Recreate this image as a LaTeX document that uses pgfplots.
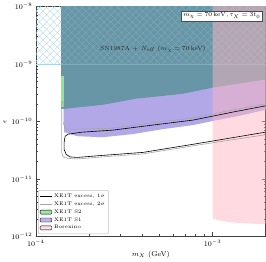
\documentclass[border=0pt]{standalone}
\usepackage{pgfplots}
\pgfplotsset{compat=1.18}
\usetikzlibrary{patterns.meta}
\definecolor{tealc}{RGB}{104,150,166}
\definecolor{purp}{RGB}{178,168,232}
\definecolor{greenc}{RGB}{144,230,144}
\definecolor{pinkc}{RGB}{255,182,193}
\definecolor{hatchc}{RGB}{170,215,230}
\colorlet{hatchdim}{hatchc!35!tealc}
\pgfplotsset{
  myline/.style={legend image code/.code={\draw[##1] (0cm,0cm) -- (0.4cm,0cm);}},
  mybox/.style={legend image code/.code={\fill[##1] (0cm,-0.07cm) rectangle (0.4cm,0.07cm);}},
}
\begin{document}
\begin{tikzpicture}
\begin{axis}[
  scale only axis, width=227pt, height=227pt,
  xmode=log, ymode=log,
  xmin=1e-4, xmax=2e-3, ymin=1e-12, ymax=1e-8,
  xtick={1e-4,1e-3}, ytick={1e-12,1e-11,1e-10,1e-9,1e-8},
  tick align=inside, xtick pos=both, ytick pos=both,
  major tick length=4pt, minor tick length=2pt,
  axis line style={black!75, line width=0.6pt},
  every tick/.style={black!75, line width=0.5pt},
  tick label style={font=\fontsize{7}{8}\selectfont},
  label style={font=\fontsize{7}{8}\selectfont},
  xlabel={$m_X$ (GeV)}, ylabel={$\epsilon$},
  xlabel style={yshift=2pt},
  ylabel style={yshift=-2pt},
  legend style={font=\fontsize{5}{6}\selectfont, at={(0.01,0.01)}, anchor=south west,
    draw=black!25, rounded corners=1pt, fill=white, fill opacity=0.85, text opacity=1,
    row sep=-1.2pt, inner sep=1.5pt},
  legend cell align=left,
]
% XE1T S1
\addplot[fill=purp, draw=none, forget plot] coordinates {
(1.445e-4,1e-7) (1.445e-4,6.53e-11) (1.714e-4,5.55e-11) (2.38e-4,5.33e-11) (3.54e-4,6.03e-11)
(5.25e-4,7.38e-11) (7.78e-4,8.68e-11) (1e-3,1.02e-10) (1.41e-3,1.25e-10) (2e-3,1.60e-10)
(2.5e-3,1.9e-10) (2.5e-3,1e-7)} -- cycle;
% SN1987A + Neff
\addplot[fill=tealc, draw=none, forget plot] coordinates {
(1.39e-4,1e-7) (1.39e-4,1.66e-10) (1.445e-4,1.66e-10) (2.38e-4,1.95e-10) (3.68e-4,2.49e-10)
(6.82e-4,3.05e-10) (1e-3,3.89e-10) (2e-3,5.38e-10) (2.5e-3,5.9e-10) (2.5e-3,1e-7)} -- cycle;
% XE1T S2
\addplot[fill=greenc, draw=none, forget plot] coordinates {
(1.39e-4,6.08e-10) (1.445e-4,6.08e-10) (1.445e-4,1.80e-10) (1.39e-4,1.80e-10)} -- cycle;
% hatch (full on the white part, faint over the filled regions)
\addplot[draw=none, pattern={Lines[angle=45,distance=5pt,line width=0.35pt]}, pattern color=hatchc, forget plot]
 coordinates {(1e-4,1e-9) (1.39e-4,1e-9) (1.39e-4,1e-7) (1e-4,1e-7)} -- cycle;
\addplot[draw=none, pattern={Lines[angle=-45,distance=5pt,line width=0.35pt]}, pattern color=hatchc, forget plot]
 coordinates {(1e-4,1e-9) (1.39e-4,1e-9) (1.39e-4,1e-7) (1e-4,1e-7)} -- cycle;
\addplot[draw=none, pattern={Lines[angle=45,distance=5pt,line width=0.35pt]}, pattern color=hatchdim, forget plot]
 coordinates {(1.39e-4,1e-9) (2.5e-3,1e-9) (2.5e-3,1e-7) (1.39e-4,1e-7)} -- cycle;
\addplot[draw=none, pattern={Lines[angle=-45,distance=5pt,line width=0.35pt]}, pattern color=hatchdim, forget plot]
 coordinates {(1.39e-4,1e-9) (2.5e-3,1e-9) (2.5e-3,1e-7) (1.39e-4,1e-7)} -- cycle;
\addplot[hatchc, line width=0.6pt, forget plot] coordinates {(1e-4,1e-9) (1.39e-4,1e-9)};
\addplot[hatchdim, line width=0.5pt, forget plot] coordinates {(1.39e-4,1e-9) (2.5e-3,1e-9)};
% Borexino
\addplot[fill=pinkc, fill opacity=0.5, draw=none, forget plot] coordinates {
(1e-3,1e-7) (1e-3,2.07e-12) (1.081e-3,1.91e-12) (1.234e-3,1.77e-12) (1.5e-3,1.70e-12)
(2e-3,1.63e-12) (2.5e-3,1.63e-12) (2.5e-3,1e-7)} -- cycle;
% 2 sigma
\addplot[black!35, line width=0.6pt, forget plot] coordinates {
(2.3e-3,2.21e-10) (2e-3,2.03e-10) (1.318e-3,1.60e-10) (7.78e-4,1.153e-10) (4.61e-4,9.42e-11)
(2.72e-4,7.68e-11) (1.832e-4,7.38e-11) (1.465e-4,7.38e-11) (1.426e-4,9.79e-11) (1.426e-4,2.21e-10)
(1.399e-4,2.21e-10) (1.399e-4,2.90e-11) (1.426e-4,2.42e-11) (1.524e-4,2.28e-11) (1.714e-4,2.23e-11)
(2.38e-4,2.42e-11) (4.04e-4,2.73e-11) (7.78e-4,3.78e-11) (2e-3,5.90e-11) (2.3e-3,6.32e-11)} -- cycle;
% 1 sigma
\addplot[black, line width=0.6pt, forget plot] coordinates {
(2.3e-3,1.995e-10) (2e-3,1.875e-10) (1.318e-3,1.47e-10) (7.78e-4,1.06e-10) (4.61e-4,8.68e-11)
(2.72e-4,7.08e-11) (1.832e-4,6.53e-11) (1.524e-4,6.02e-11) (1.465e-4,5.55e-11) (1.445e-4,4.35e-11)
(1.445e-4,3.27e-11) (1.485e-4,2.67e-11) (1.564e-4,2.42e-11) (1.714e-4,2.37e-11) (2.38e-4,2.57e-11)
(4.04e-4,2.90e-11) (7.78e-4,4.02e-11) (2e-3,6.53e-11) (2.3e-3,6.97e-11)} -- cycle;
% legend
\addlegendimage{black, line width=0.6pt, myline}
\addlegendentry{XE1T excess, $1\sigma$}
\addlegendimage{black!35, line width=0.6pt, myline}
\addlegendentry{XE1T excess, $2\sigma$}
\addlegendimage{fill=greenc, mybox}
\addlegendentry{XE1T S2}
\addlegendimage{fill=purp, mybox}
\addlegendentry{XE1T S1}
\addlegendimage{fill=pinkc!50, mybox}
\addlegendentry{Borexino}
% annotations
\node[font=\fontsize{6}{7}\selectfont, text=black!85] at (axis cs:4.6e-4,1.82e-9) {SN1987A + $N_{\rm eff}$ ($m_\chi = 70\,$keV)};
\node[font=\fontsize{6}{7}\selectfont, draw=black!70, fill=white, inner sep=1.8pt, anchor=north east, line width=0.4pt]
  at (rel axis cs:0.985,0.982) {$m_\chi = 70\,\mathrm{keV}, \tau_X = 3 t_0$};
\end{axis}
\end{tikzpicture}
\end{document}
